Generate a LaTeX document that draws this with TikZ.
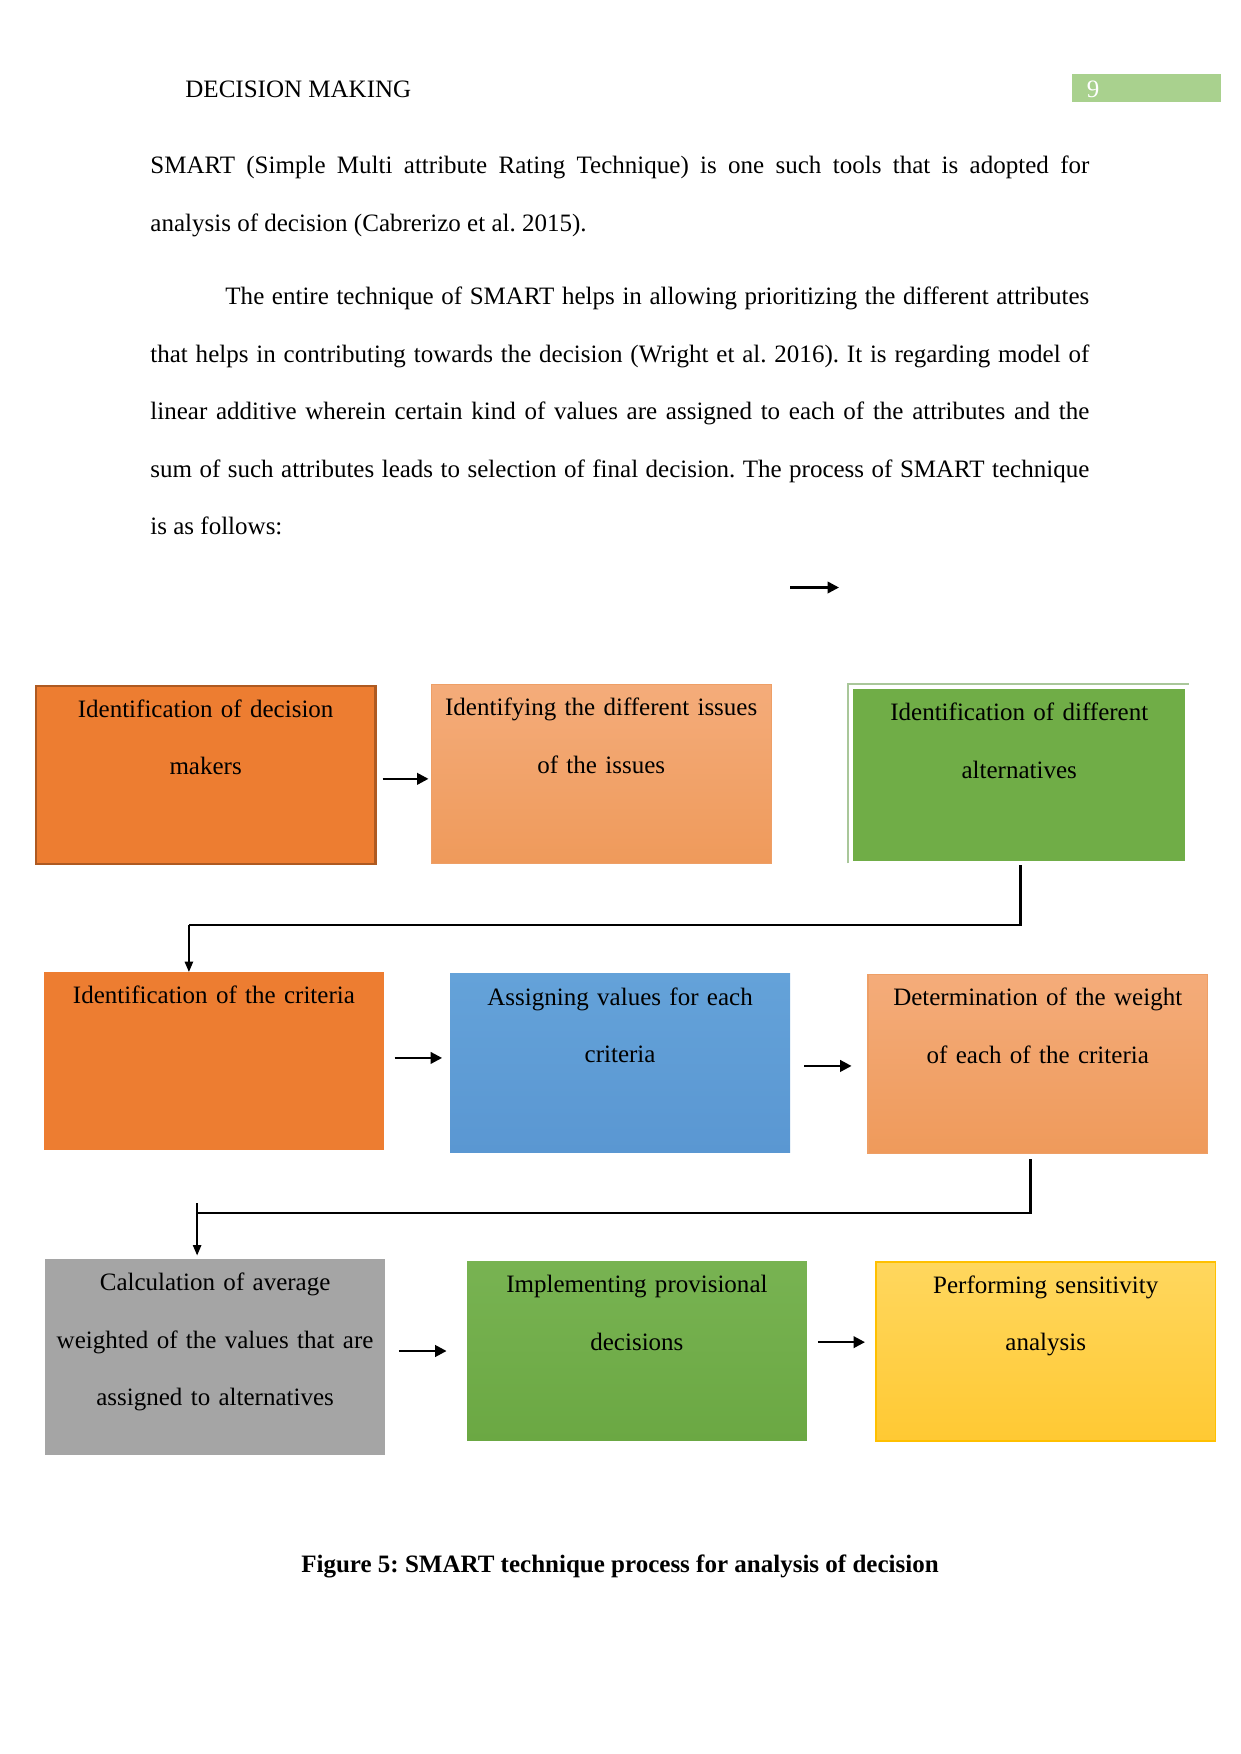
\documentclass[tikz,border=0pt]{standalone}
\usepackage{fontspec}
\setmainfont{Liberation Serif}
\usepackage{xcolor}
\usepackage{tikz}
\usetikzlibrary{arrows.meta}
\frenchspacing

\definecolor{smartorange}{HTML}{ED7D31}
\definecolor{orangeedge}{HTML}{AE5A21}
\definecolor{peachtop}{HTML}{F4AC7A}
\definecolor{peachbot}{HTML}{EF9A5B}
\definecolor{peachedge}{HTML}{EE9F66}
\definecolor{leafgreen}{HTML}{70AD47}
\definecolor{leaftop}{HTML}{78B352}
\definecolor{leafbot}{HTML}{6BA843}
\definecolor{framegreen}{HTML}{A9C79A}
\definecolor{skytop}{HTML}{64A2D9}
\definecolor{skybot}{HTML}{5A97D2}
\definecolor{stonegray}{HTML}{A5A5A5}
\definecolor{suntop}{HTML}{FFD75E}
\definecolor{sunbot}{HTML}{FFC933}
\definecolor{sunedge}{HTML}{FFC000}
\definecolor{headgreen}{HTML}{A9D18E}

\begin{document}
\begin{tikzpicture}[
  x=0.4797pt, y=-0.4797pt,
  font=\fontsize{12}{27.6}\selectfont,
  stage/.style={anchor=north west, text width=163pt, inner xsep=0pt, inner ysep=5pt,
    text height=10pt, text depth=#1, align=center},
  body/.style={anchor=base west, text width=450.4pt, inner sep=0pt, align=justify},
  arr/.style={-{Triangle[length=5.5pt, width=5.5pt]}, line width=1.2pt},
  link/.style={line width=1.3pt},
  drop/.style={-{Triangle[length=5pt, width=4pt]}, line width=0.8pt}
]
\useasboundingbox (0,0) rectangle (1241,1754);
% running head
\node[anchor=base west, inner sep=0pt] (runhead) at (185,97.5) {DECISION MAKING};
\fill[headgreen] (1072,74) rectangle (1221,102);
\node[white, inner sep=0pt] (pageno) at (1093,89) {9};
% text above the figure
\node[body] (para1) at (150,173.5) {\tolerance=9999 SMART (Simple Multi attribute Rating Technique) is one such tools that is adopted for\linebreak analysis of decision (Cabrerizo et al. 2015).};
\node[body] (para2) at (150,304.5) {\tolerance=9999 \hspace*{36pt}The entire technique of SMART helps in allowing prioritizing the different attributes\linebreak that helps in contributing towards the decision (Wright et al. 2016). It is regarding model of\linebreak linear additive wherein certain kind of values are assigned to each of the attributes and the\linebreak sum of such attributes leads to selection of final decision. The process of SMART technique\linebreak is as follows:};
\coordinate (loose) at (790,587.5);
\draw[arr] (loose) -- ++(49,0);
% first row
\node[stage=65.2pt, fill=smartorange, draw=orangeedge, line width=1pt] (decmak) at (34.7,685) {Identification of decision\\makers};
\node[stage=65.9pt, top color=peachtop, bottom color=peachbot, draw=peachedge, line width=0.5pt] (issues) at (430.8,683.7) {Identifying the different issues\\of the issues};
\node[stage=62.3pt, text width=159.4pt, fill=leafgreen] (altern) at (852.7,689) {Identification of different\\alternatives};
\draw[framegreen, line width=0.6pt] ([shift={(-4.7,2)}]altern.south west) |- ([shift={(3,-5)}]altern.north east);
% second row
\node[stage=65.4pt, fill=smartorange] (criteria) at (43.6,972) {Identification of the criteria};
\node[stage=65.9pt, top color=skytop, bottom color=skybot] (values) at (449.8,973.5) {Assigning values for each\\criteria};
\node[stage=65.9pt, top color=peachtop, bottom color=peachbot, draw=peachedge, line width=0.8pt] (weight) at (867,973.5) {Determination of the weight\\of each of the criteria};
% third row
\node[stage=73.9pt, fill=stonegray] (average) at (44.8,1259) {Calculation of average\\weighted of the values that are\\assigned to alternatives};
\node[stage=65.9pt, top color=leaftop, bottom color=leafbot] (provis) at (466.6,1261) {Implementing provisional\\decisions};
\node[stage=65.9pt, top color=suntop, bottom color=sunbot, draw=sunedge, line width=0.8pt] (sensit) at (875,1261) {Performing sensitivity\\analysis};
% arrows inside the rows
\foreach \a/\b/\dy/\ga/\gb in {decmak/issues/4/2.9/1.1, criteria/values/-3.5/5/3.7, values/weight/2.5/6.7/7.4, average/provis/-6.3/6.4/9.6, provis/sensit/-8.8/5.1/4.8}{
  \draw[arr, shorten <=\ga pt, shorten >=\gb pt] ([shift={(0,\dy)}]\a.east) coordinate (s) -- (s -| \b.west);
}
% row to row
\draw[link] ([shift={(1.5,4)}]altern.south) |- ([shift={(-25,-47)}]criteria.north) coordinate (k1);
\draw[drop] (k1) -- (k1 |- criteria.north);
\draw[link] ([shift={(-7.4,5)}]weight.south) |- ([shift={(-18,-46)}]average.north) coordinate (k2);
\draw[drop, shorten >=1.7pt] ([shift={(0,-10)}]k2) -- (k2 |- average.north);
% caption
\node[anchor=base, inner sep=0pt, font=\fontsize{12}{14}\selectfont\bfseries] (caption) at (620,1572) {Figure 5: SMART technique process for analysis of decision};
\end{tikzpicture}
\end{document}
